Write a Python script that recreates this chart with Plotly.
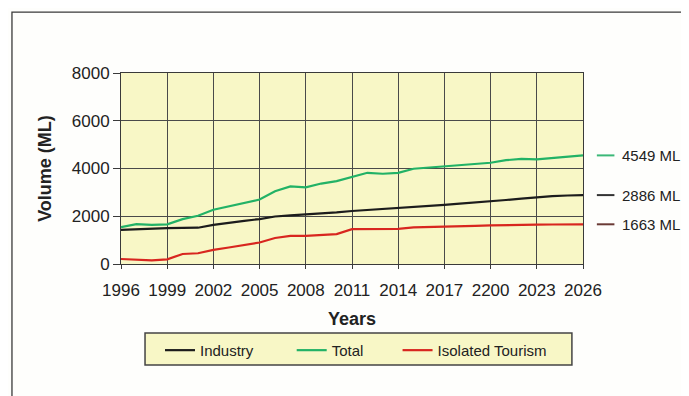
import plotly.graph_objects as go

years = list(range(1996, 2027))
industry = [1430, 1460, 1475, 1500, 1515, 1520, 1640, 1740, 1810, 1880, 1990, 2040, 2080, 2105, 2160,
            2220, 2260, 2300, 2330, 2370, 2410, 2480, 2525, 2570, 2625, 2680, 2740, 2800, 2840, 2870, 2886]
total = [1540, 1670, 1640, 1660, 1880, 2020, 2270, 2410, 2530, 2700, 3050, 3250, 3210, 3370, 3470,
         3650, 3820, 3780, 3820, 3990, 4040, 4070, 4130, 4180, 4240, 4350, 4400, 4380, 4440, 4505, 4549]
tourism = [210, 185, 155, 195, 420, 450, 590, 690, 790, 900, 1090, 1180, 1180, 1205, 1250,
           1460, 1460, 1460, 1475, 1530, 1555, 1570, 1600, 1600, 1615, 1635, 1640, 1650, 1655, 1660, 1663]

tick_vals = [1996, 1999, 2002, 2005, 2008, 2011, 2014, 2017, 2020, 2023, 2026]
tick_text = ["1996", "1999", "2002", "2005", "2008", "2011", "2014", "2017", "2200", "2023", "2026"]
y_ticks = [0, 2000, 4000, 6000, 8000]

series_names = ["Industry", "Total", "Isolated Tourism"]
legend_pad = [8, 7, 0]
series_colors = ["#1c1c1c", "#22b266", "#d8261f"]
series_values = [industry, total, tourism]

end_order = [1, 0, 2]
end_colors = {0: "#333333", 1: "#3cb878", 2: "#6a3a35"}

FONT = "Liberation Sans, Arial, sans-serif"
BG = "#f8f7c6"

fig = go.Figure()
for name, pad, vals, col in zip(series_names, legend_pad, series_values, series_colors):
    fig.add_trace(go.Scatter(x=years, y=vals, mode="lines", name=name + "&nbsp;" * pad,
                             line=dict(color=col, width=2.2)))

shapes = [
    # outer frame
    dict(type="rect", xref="paper", yref="paper", x0=-0.236, x1=1.4, y0=-0.75, y1=1.319,
         line=dict(color="#3a3a3a", width=1.3), fillcolor="rgba(0,0,0,0)", layer="below"),
    # legend box
    dict(type="rect", xref="paper", yref="paper", x0=0.052, x1=0.976, y0=-0.529, y1=-0.361,
         line=dict(color="#444", width=1.5), fillcolor=BG, layer="below"),
]
annotations = []
for i in end_order:
    v = series_values[i][-1]
    shapes.append(dict(type="line", xref="paper", yref="y", x0=1.030, x1=1.068, y0=v, y1=v,
                       line=dict(color=end_colors[i], width=2)))
    annotations.append(dict(xref="paper", yref="y", x=1.080, y=v, xanchor="left", yanchor="middle",
                            text=f"{v} ML", showarrow=False,
                            font=dict(family=FONT, size=15, color="#222")))

fig.update_layout(
    width=681, height=388,
    margin=dict(l=113, r=106, t=65, b=132),
    paper_bgcolor="#fefefc",
    plot_bgcolor=BG,
    font=dict(family=FONT, size=17, color="#222"),
    showlegend=True,
    legend=dict(orientation="h", x=0.0844, xanchor="left", y=-0.366, yanchor="top",
                bgcolor="rgba(0,0,0,0)", borderwidth=0,
                font=dict(family=FONT, size=15, color="#222"),
                traceorder="normal"),
    shapes=shapes,
    annotations=annotations,
    xaxis=dict(range=[1996, 2026], tickvals=tick_vals, ticktext=tick_text,
               showgrid=True, gridcolor="#4a4a4a", gridwidth=1,
               showline=True, linecolor="#3a3a3a", linewidth=1, mirror=True,
               ticks="outside", ticklen=4, tickcolor="#3a3a3a",
               tickfont=dict(size=17), ticklabelstandoff=7, zeroline=False,
               title=dict(text="<b>Years</b>", font=dict(size=18), standoff=12)),
    yaxis=dict(range=[0, 8000], tickvals=y_ticks,
               showgrid=True, gridcolor="#4a4a4a", gridwidth=1,
               showline=True, linecolor="#3a3a3a", linewidth=1, mirror=True,
               ticks="outside", ticklen=7, tickcolor="#3a3a3a",
               tickfont=dict(size=17), zeroline=False,
               title=dict(text="<b>Volume (ML)</b>", font=dict(size=18), standoff=15)),
)

fig.write_html("out.html")
